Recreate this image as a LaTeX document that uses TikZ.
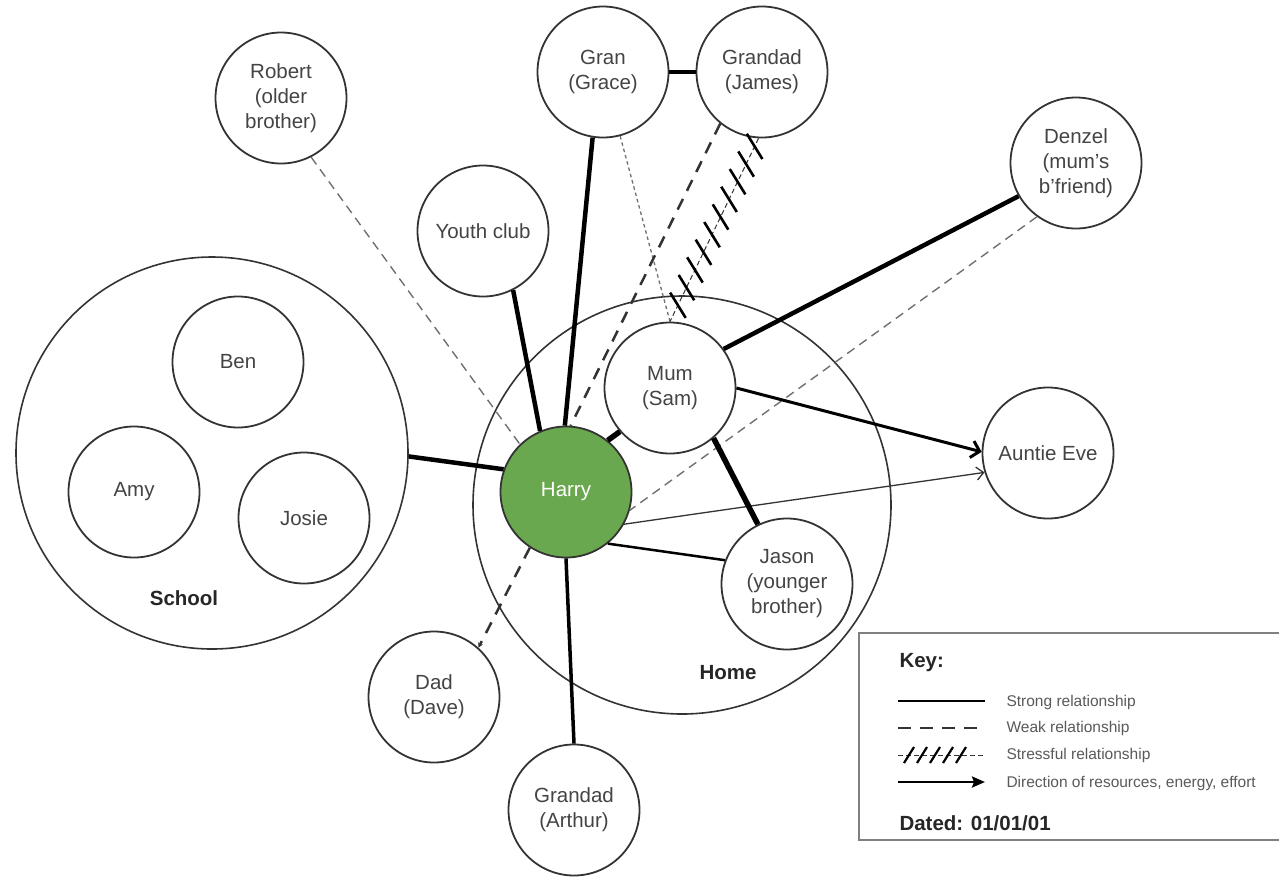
\documentclass[tikz,border=0pt]{standalone}
\usepackage{fontspec}
\setmainfont{Liberation Sans}
\usetikzlibrary{arrows.meta,decorations.markings}
\definecolor{circ}{HTML}{333333}
\definecolor{txt}{HTML}{444444}
\definecolor{harryg}{HTML}{6AA84F}
\definecolor{dashg}{HTML}{707070}
\definecolor{keyg}{HTML}{808080}
\begin{document}
\begin{tikzpicture}[x=1pt,y=-1pt,
  pers/.style={circle, draw=circ, line width=1.8pt, fill=white, minimum size=131pt,
    inner sep=0pt, align=center, text=txt, font=\fontsize{20.5}{25}\selectfont},
  bigc/.style={circle, draw=circ, line width=1.6pt, inner sep=0pt},
  grouplab/.style={font=\bfseries\fontsize{20.5}{25}\selectfont, text=black!85},
  strongline/.style={line width=#1, draw=black},
  strongline/.default=4.5pt,
  weakline/.style={line width=1.4pt, draw=dashg, dash pattern=on 9pt off 6pt},
  dotline/.style={line width=1.3pt, draw=dashg, dash pattern=on 3.5pt off 3pt},
  weakdark/.style={line width=2.5pt, draw=circ, dash pattern=on 12pt off 9pt},
  stressline/.style={line width=1pt, draw=circ, dash pattern=on 5pt off 3pt,
    postaction={decorate},
    decoration={markings, mark=between positions 9pt and 190pt step 19.6pt with
      {\draw[line width=2.6pt, solid, black] (-8pt,-12.5pt) -- (8pt,12.5pt);}}},
  keystress/.style={line width=1pt, draw=circ, dash pattern=on 5pt off 3pt,
    postaction={decorate},
    decoration={markings, mark=between positions 11pt and 66pt step 13pt with
      {\draw[line width=2.2pt, solid, black] (-5pt,-8pt) -- (5pt,8pt);}}},
  keytext/.style={anchor=west, text=black!65, font=\fontsize{15.5}{18}\selectfont},
  keyhead/.style={anchor=west, text=black!85, font=\bfseries\fontsize{20.5}{24}\selectfont}
]
\useasboundingbox (0,0) rectangle (1279,876);
\clip (0,0) rectangle (1279,876);

% group circles
\node[bigc, minimum size=392pt] (school) at (212,453) {};
\node[bigc, minimum size=418pt] (home) at (682,505) {};
\node[grouplab] (schoollab) at (184,598) {School};
\node[grouplab] (homelab) at (728,673) {Home};

% people
\node[pers] (robert) at (281,98) {Robert\\(older\\brother)};
\node[pers] (gran) at (603,72) {Gran\\(Grace)};
\node[pers] (grandadj) at (762,72) {Grandad\\(James)};
\node[pers] (youth) at (483,231) {Youth club};
\node[pers] (denzel) at (1076,163) {Denzel\\(mum's\\b'friend)};
\node[pers] (ben) at (238,362) {Ben};
\node[pers] (amy) at (134,492) {Amy};
\node[pers] (josie) at (304,518) {Josie};
\node[pers] (mum) at (670,388) {Mum\\(Sam)};
\node[pers, fill=harryg, text=white] (harry) at (566,492) {Harry};
\node[pers] (jason) at (787,584) {Jason\\(younger\\brother)};
\node[pers] (auntie) at (1048,453) {Auntie Eve};
\node[pers] (dad) at (434,697) {Dad\\(Dave)};
\node[pers] (arthur) at (574,810) {Grandad\\(Arthur)};

% connectors
\draw[strongline] (school.-1) -- (harry.160.7);
\draw[strongline] (youth.-63.8) -- (harry.113.4);
\draw[strongline] (gran.-99.6) -- (harry.91);
\draw[strongline] (gran.0) -- (grandadj.180);
\draw[weakline] (robert.-63.4) -- (harry.134);
\draw[dotline] (gran.-75.3) -- (mum.90);
\draw[weakdark] (grandadj.-129.7) -- (harry.86);
\draw[weakdark, -{Stealth[length=5pt,width=5pt]}] (harry.-123) -- (dad.48);
\draw[stressline] (grandadj.-93) -- (mum.90);
\draw[strongline] (denzel.210.7) -- (mum.36.9);
\draw[weakline] (denzel.-126.6) -- (harry.-16.2);
\draw[strongline=3pt, -{Straight Barb[length=8pt,width=17pt]}] (mum.0) -- (auntie.179);
\draw[line width=1.3pt, draw=black!80, -{Straight Barb[length=7pt,width=13pt]}] (harry.-29.8) -- (auntie.197);
\draw[strongline=5.5pt] (mum.-49.3) -- (jason.116.2);
\draw[strongline=5.5pt] (harry.51) -- (mum.221.3);
\draw[strongline=2.5pt] (harry.-51.2) -- (jason.159.4);
\draw[strongline=3.5pt] (harry.-90) -- (arthur.90);

% key
\draw[draw=keyg, line width=2pt] (859,633) rectangle (1290,840);
\node[keyhead] (keytitle) at (896,663) {Key:};
\node[keyhead] (dated) at (896,823) {Dated: 01/01/01};
\coordinate (k1a) at (898,701); \coordinate (k1b) at (985,701);
\coordinate (k2a) at (898,728); \coordinate (k2b) at (985,728);
\coordinate (k3a) at (898,755); \coordinate (k3b) at (985,755);
\coordinate (k4a) at (898,782); \coordinate (k4b) at (985,782);
\draw[strongline=2.5pt] (k1a) -- (k1b);
\draw[line width=2.5pt, draw=circ, dash pattern=on 13pt off 9pt] (k2a) -- (k2b);
\draw[keystress] (k3a) -- (k3b);
\draw[strongline=2.5pt, -{Stealth[length=13pt,width=11pt,inset=2pt]}] (k4a) -- (k4b);
\node[keytext] (kt1) at (1003,702) {Strong relationship};
\node[keytext] (kt2) at (1003,728) {Weak relationship};
\node[keytext] (kt3) at (1003,755) {Stressful relationship};
\node[keytext] (kt4) at (1003,783) {Direction of resources, energy, effort};
\end{tikzpicture}
\end{document}
